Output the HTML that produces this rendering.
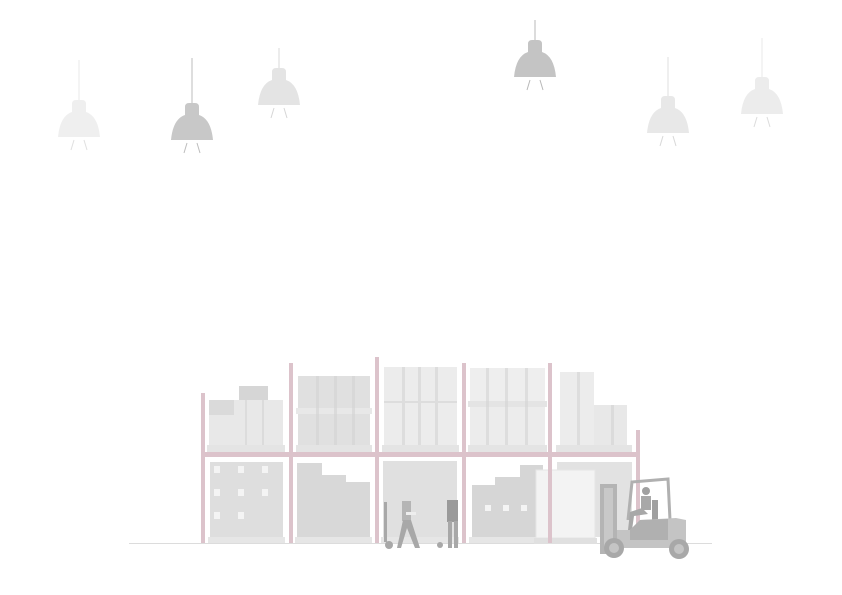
<!DOCTYPE html>
<html><head><meta charset="utf-8"><style>html,body{margin:0;padding:0;background:#fff}svg{display:block}</style></head>
<body>
<svg width="842" height="595" viewBox="0 0 842 595" xmlns="http://www.w3.org/2000/svg">
<defs>
<g id="lamp">
<path d="M-7,12 L-7,4 Q-7,0 -3,0 L3,0 Q7,0 7,4 L7,12 Q19,16 21,37 L-21,37 Q-19,16 -7,12 Z"/>
</g>
</defs>
<!-- lamps -->
<g stroke-width="1.2" fill="none">
<line x1="79" y1="60" x2="79" y2="100" stroke="#ececec"/>
<line x1="192" y1="58" x2="192" y2="103" stroke="#c8c8c8"/>
<line x1="279" y1="48" x2="279" y2="68" stroke="#e0e0e0"/>
<line x1="535" y1="20" x2="535" y2="40" stroke="#c4c4c4"/>
<line x1="668" y1="57" x2="668" y2="96" stroke="#e4e4e4"/>
<line x1="762" y1="38" x2="762" y2="77" stroke="#ececec"/>
</g>
<use href="#lamp" x="79" y="100" fill="#efefef"/>
<use href="#lamp" x="192" y="103" fill="#c8c8c8"/>
<use href="#lamp" x="279" y="68" fill="#e4e4e4"/>
<use href="#lamp" x="535" y="40" fill="#c4c4c4"/>
<use href="#lamp" x="668" y="96" fill="#e8e8e8"/>
<use href="#lamp" x="762" y="77" fill="#ececec"/>
<g stroke-width="1">
<path d="M74,140 L71,150 M84,140 L87,150" stroke="#e0e0e0"/>
<path d="M187,143 L184,153 M197,143 L200,153" stroke="#bdbdbd"/>
<path d="M274,108 L271,118 M284,108 L287,118" stroke="#d6d6d6"/>
<path d="M530,80 L527,90 M540,80 L543,90" stroke="#b8b8b8"/>
<path d="M663,136 L660,146 M673,136 L676,146" stroke="#d8d8d8"/>
<path d="M757,117 L754,127 M767,117 L770,127" stroke="#dcdcdc"/>
</g>
<!-- floor -->
<line x1="129" y1="543.5" x2="712" y2="543.5" stroke="#dcdcdc" stroke-width="1"/>
<!-- upper boxes -->
<g>
<rect x="239" y="386" width="29" height="15" fill="#d6d6d6"/>
<rect x="209" y="400" width="74" height="45" fill="#e8e8e8"/>
<rect x="209" y="400" width="25" height="15" fill="#dadada"/>
<rect x="298" y="376" width="72" height="32" fill="#e0e0e0"/>
<rect x="296" y="408" width="76" height="6" fill="#e8e8e8"/>
<rect x="298" y="414" width="72" height="31" fill="#e0e0e0"/>
<rect x="384" y="367" width="73" height="78" fill="#ececec"/>
<rect x="470" y="368" width="75" height="33" fill="#eeeeee"/>
<rect x="468" y="401" width="79" height="6" fill="#e4e4e4"/>
<rect x="470" y="407" width="75" height="38" fill="#ececec"/>
<rect x="560" y="372" width="34" height="73" fill="#ececec"/>
<rect x="594" y="405" width="33" height="40" fill="#e8e8e8"/>
<g fill="#e4e4e4">
<rect x="207" y="445" width="78" height="7"/><rect x="296" y="445" width="76" height="7"/>
<rect x="382" y="445" width="77" height="7"/><rect x="468" y="445" width="79" height="7"/>
<rect x="556" y="445" width="76" height="7"/>
</g>
<g fill="#d4d4d4" opacity=".6">
<rect x="245" y="400" width="2" height="45"/><rect x="262" y="400" width="2" height="45"/>
<rect x="316" y="376" width="3" height="69"/><rect x="334" y="376" width="3" height="69"/><rect x="352" y="376" width="3" height="69"/>
<rect x="402" y="367" width="3" height="78"/><rect x="418" y="367" width="3" height="78"/><rect x="435" y="367" width="3" height="78"/>
<rect x="486" y="368" width="3" height="77"/><rect x="505" y="368" width="3" height="77"/><rect x="525" y="368" width="3" height="77"/>
<rect x="577" y="372" width="3" height="73"/><rect x="611" y="405" width="3" height="40"/>
<rect x="384" y="401" width="73" height="2"/>
</g>
</g>
<!-- lower boxes -->
<rect x="210" y="462" width="73" height="75" fill="#dedede"/>
<path d="M297,537 V463 H322 V475 H346 V482 H370 V537 Z" fill="#d8d8d8"/>
<rect x="383" y="461" width="74" height="76" fill="#e0e0e0"/>
<path d="M472,537 V485 H495 V477 H520 V465 H543 V537 Z" fill="#d6d6d6"/>
<rect x="557" y="462" width="75" height="75" fill="#e2e2e2"/>
<g fill="#e6e6e6">
<rect x="208" y="537" width="77" height="6"/><rect x="295" y="537" width="77" height="6"/>
<rect x="381" y="537" width="78" height="6"/><rect x="469" y="537" width="78" height="6"/>
</g>
<g fill="#f4f4f4">
<rect x="214" y="466" width="6" height="7"/><rect x="238" y="466" width="6" height="7"/><rect x="262" y="466" width="6" height="7"/>
<rect x="214" y="489" width="6" height="7"/><rect x="238" y="489" width="6" height="7"/><rect x="262" y="489" width="6" height="7"/>
<rect x="214" y="512" width="6" height="7"/><rect x="238" y="512" width="6" height="7"/>
<rect x="485" y="505" width="6" height="6"/><rect x="503" y="505" width="6" height="6"/><rect x="521" y="505" width="6" height="6"/>
</g>
<!-- wrapped pallet -->
<rect x="536" y="470" width="59" height="68" fill="#f3f3f3" stroke="#e6e6e6"/>
<rect x="534" y="538" width="63" height="6" fill="#e0e0e0"/>
<!-- rack -->
<g fill="#dcc3cb">
<rect x="201" y="393" width="4" height="150"/>
<rect x="289" y="363" width="4" height="180"/>
<rect x="375" y="357" width="4" height="186"/>
<rect x="462" y="363" width="4" height="180"/>
<rect x="548" y="363" width="4" height="180"/>
<rect x="636" y="430" width="4" height="113"/>
<rect x="201" y="452" width="439" height="5"/>
</g>
<!-- workers -->
<g fill="#a8a8a8">
<rect x="384" y="502" width="3" height="40"/>
<circle cx="389" cy="545" r="4"/>
<circle cx="406" cy="496" r="4" fill="#e0e0e0"/>
<rect x="402" y="501" width="9" height="20" fill="#b5b5b5"/>
<path d="M403,520 L397,548 L401,548 L407,528 L415,548 L420,548 L411,520 Z"/>
<rect x="406" y="512" width="10" height="3" fill="#eee"/>
<circle cx="453" cy="496" r="4" fill="#e0e0e0"/>
<rect x="447" y="500" width="11" height="22" fill="#9a9a9a"/>
<rect x="448" y="521" width="4" height="27"/><rect x="454" y="521" width="4" height="27"/>
<circle cx="440" cy="545" r="3"/>
</g>
<!-- forklift -->
<g>
<rect x="600" y="484" width="17" height="70" fill="#b4b4b4"/>
<rect x="604" y="488" width="9" height="60" fill="#c8c8c8"/>
<path d="M628,520 L632,482 L668,479 L670,520" fill="none" stroke="#b0b0b0" stroke-width="3"/>
<circle cx="646" cy="491" r="4" fill="#a0a0a0"/>
<rect x="641" y="496" width="10" height="14" fill="#a8a8a8"/>
<path d="M642,508 L630,512 L628,530 L632,530 L634,516 L648,514 Z" fill="#a8a8a8"/>
<rect x="652" y="500" width="6" height="20" fill="#a0a0a0"/>
<path d="M617,530 L630,530 L640,520 L676,518 L686,520 L686,548 L617,548 Z" fill="#c4c4c4"/>
<path d="M630,530 L640,520 L668,519 L668,540 L630,540 Z" fill="#b0b0b0"/>
<circle cx="614" cy="548" r="10" fill="#a8a8a8"/><circle cx="614" cy="548" r="5" fill="#c4c4c4"/>
<circle cx="679" cy="549" r="10" fill="#a8a8a8"/><circle cx="679" cy="549" r="5" fill="#c4c4c4"/>
</g>
</svg>
</body></html>
